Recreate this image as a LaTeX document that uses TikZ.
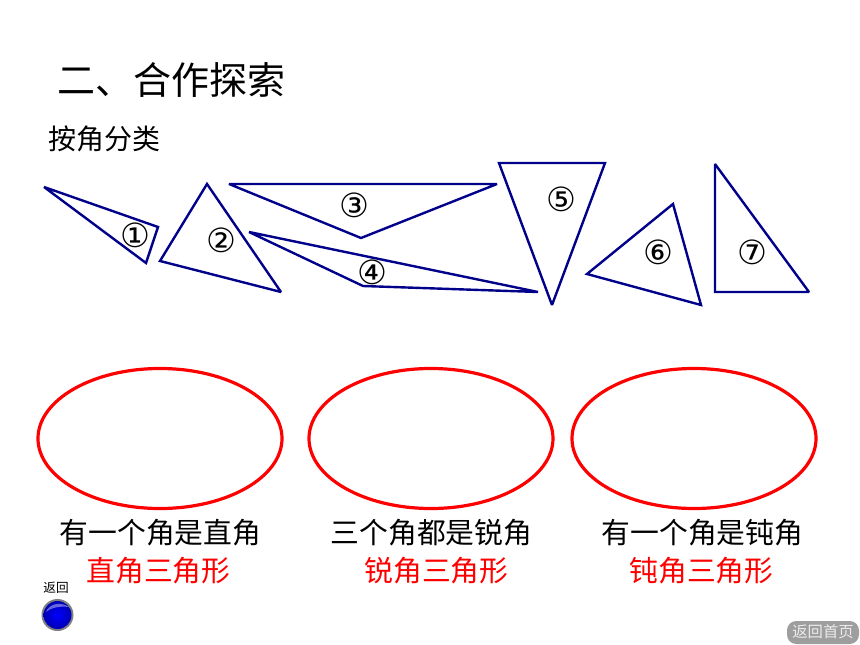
\documentclass[tikz,border=0pt]{standalone}
\usepackage{fontspec}
\usetikzlibrary{shadings}
\newfontfamily\cjk{Noto Sans CJK SC}
\newfontfamily\numfont{DejaVu Sans}
\definecolor{navyline}{RGB}{0,0,139}
\definecolor{redline}{RGB}{255,0,0}
\tikzset{
  tri/.style={draw=navyline,line width=1.8pt,line join=miter,miter limit=2.2},
  oval/.style={draw=redline,line width=2.4pt},
  num/.style={inner sep=0pt,font=\numfont\fontsize{25}{25}\selectfont},
  lbl/.style={inner sep=0pt,font=\cjk\fontsize{21.6}{21.6}\selectfont,text=black},
  redlbl/.style={inner sep=0pt,font=\cjk\fontsize{21.6}{21.6}\selectfont,text=redline},
}
\begin{document}
\begin{tikzpicture}[x=0.75pt,y=-0.75pt]
\useasboundingbox (0,0) rectangle (860,645);
\fill[white] (0,0) rectangle (860,645);
\node[inner sep=0pt,font=\cjk\fontsize{28.5}{28.5}\selectfont] (title) at (171,80) {二、合作探索};
\node[inner sep=0pt,font=\cjk\fontsize{21}{21}\selectfont] (sub) at (104,139) {按角分类};
% triangles
\draw[tri] (44,187) -- (158,227) -- (146,263) -- cycle;
\draw[tri] (207,184) -- (281,292) -- (160,261) -- cycle;
\draw[tri] (229,184) -- (497,184) -- (361,238) -- cycle;
\draw[tri] (249,232) -- (538,292) -- (363,286) -- cycle;
\draw[tri] (499,163) -- (605,163) -- (552,305) -- cycle;
\draw[tri] (673,204) -- (701,305) -- (587,274) -- cycle;
\draw[tri] (715,164) -- (809,292) -- (715,292) -- cycle;
\node[num] (n1) at (135,235) {①};
\node[num] (n2) at (221,240) {②};
\node[num] (n3) at (354,205) {③};
\node[num] (n4) at (372,272) {④};
\node[num] (n5) at (561,199) {⑤};
\node[num] (n6) at (658,252) {⑥};
\node[num] (n7) at (752,252) {⑦};
% ovals
\draw[oval] (160,438.5) ellipse [x radius=122,y radius=70];
\draw[oval] (431,438.5) ellipse [x radius=122,y radius=70];
\draw[oval] (694,438.5) ellipse [x radius=122,y radius=70];
% labels
\node[lbl] (a1) at (160.5,533) {有一个角是直角};
\node[lbl] (a2) at (431.5,533) {三个角都是锐角};
\node[lbl] (a3) at (702.5,533) {有一个角是钝角};
\node[redlbl] (b1) at (158.5,571) {直角三角形};
\node[redlbl] (b2) at (436.5,571) {锐角三角形};
\node[redlbl] (b3) at (701.5,571) {钝角三角形};
% back button
\node[inner sep=0pt,font=\cjk\fontsize{9.5}{9.5}\selectfont] (back) at (56,588) {返回};
\fill[black!50] (57.5,615) circle [radius=16];
\shade[inner color=blue,outer color=blue!70!black] (57.5,615) circle [radius=14];
\fill[white,opacity=0.4] (46,612) .. controls (49,604) and (60,601) .. (69,607) .. controls (61,606) and (52,607) .. (46,612) -- cycle;
% home button
\fill[black!38,rounded corners=7pt] (787,621) rectangle (859,644);
\node[inner sep=0pt,font=\cjk\fontsize{11.5}{11.5}\selectfont,text=white!92!black] (home) at (823,632) {返回首页};
\end{tikzpicture}
\end{document}
